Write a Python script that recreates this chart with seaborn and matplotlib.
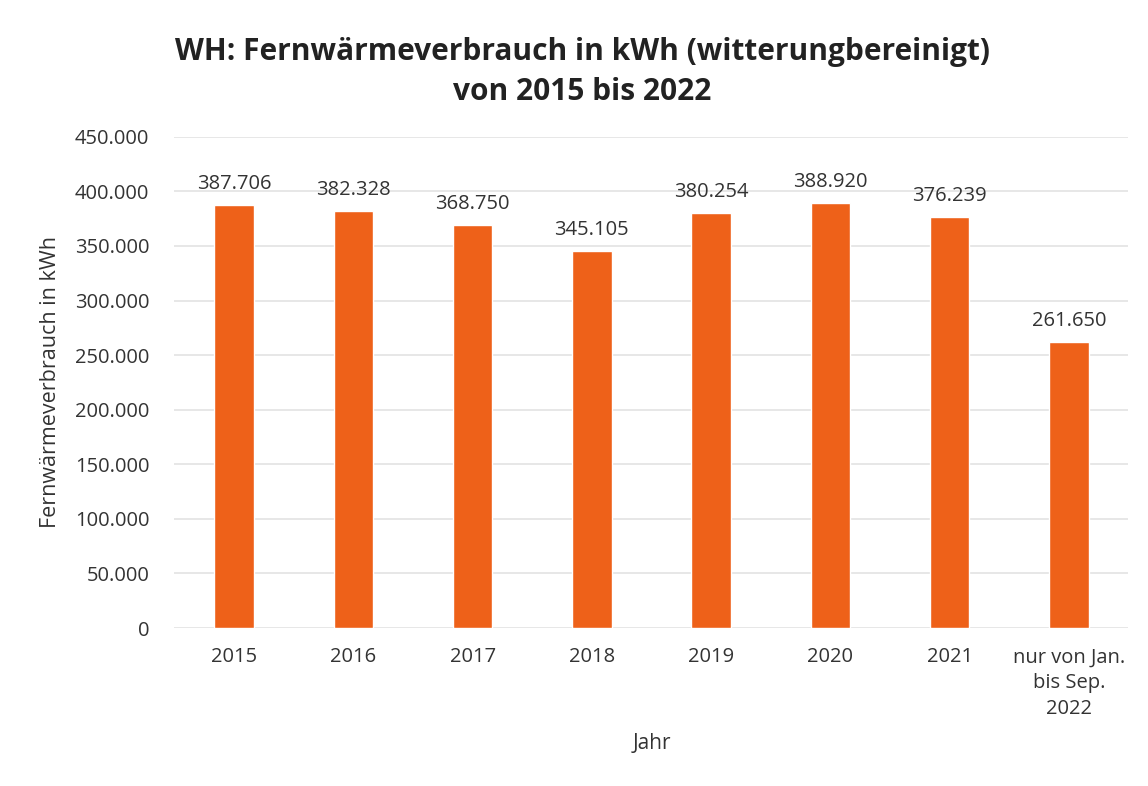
import matplotlib
matplotlib.use("Agg")
import matplotlib.pyplot as plt
import seaborn as sns
import pandas as pd
from matplotlib.ticker import FuncFormatter

categories = ["2015", "2016", "2017", "2018", "2019", "2020", "2021",
              "nur von Jan.\nbis Sep.\n2022"]
values = [387706, 382328, 368750, 345105, 380254, 388920, 376239, 261650]

sns.set_theme(style="white")
plt.rcParams['font.family'] = ['Open Sans', 'DejaVu Sans']

df = pd.DataFrame({"Jahr": categories, "kWh": values})

fig = plt.figure(figsize=(11.48, 7.86), dpi=100)
ax = fig.add_axes([0.152, 0.201, 0.831, 0.625])

sns.barplot(data=df, x="Jahr", y="kWh", color="#EE6119", width=0.33,
            saturation=1, ax=ax, zorder=3)

def fmt(v):
    return f"{int(round(v)):,}".replace(",", ".")

ax.set_ylim(0, 450000)
ax.set_yticks(range(0, 450001, 50000))
ax.yaxis.set_major_formatter(FuncFormatter(lambda v, p: fmt(v)))
ax.grid(axis="y", color="#e3e3e3", linewidth=1.2, zorder=0)
for s in ax.spines.values():
    s.set_visible(False)
ax.tick_params(axis="both", length=0, labelsize=14.5, colors="#333333")
ax.tick_params(axis="y", pad=18)
ax.tick_params(axis="x", pad=14)
for t in ax.get_xticklabels():
    t.set_linespacing(1.4)

for i, v in enumerate(values):
    ax.annotate(fmt(v), (i, v), xytext=(0, 8), textcoords="offset points",
                ha="center", va="bottom", fontsize=14.5, color="#333333")

ax.set_xlabel("Jahr", fontsize=15, color="#333333", labelpad=10)
ax.set_ylabel("Fernwärmeverbrauch in kWh", fontsize=15.5, color="#333333", labelpad=10)

fig.text(0.507, 0.908, "WH: Fernwärmeverbrauch in kWh (witterungbereinigt)\nvon 2015 bis 2022",
         ha="center", va="center", fontsize=21.5, fontweight="bold", color="#222222",
         linespacing=1.45)

fig.savefig("out.png", dpi=100, facecolor="white")
